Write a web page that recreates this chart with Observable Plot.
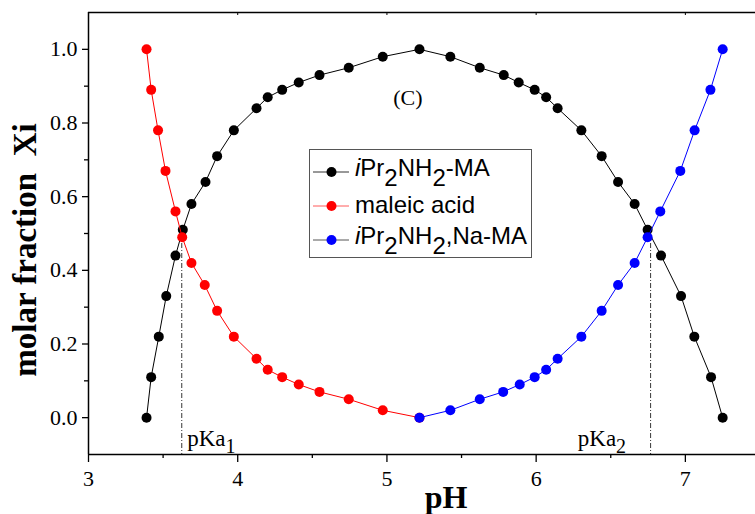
<!DOCTYPE html>
<html>
<head>
<meta charset="utf-8">
<script src="https://cdn.jsdelivr.net/npm/d3@7"></script>
<script src="https://cdn.jsdelivr.net/npm/@observablehq/plot@0.6"></script>
<style>
  html, body { margin: 0; padding: 0; background: #fff; }
  #wrap { position: relative; width: 755px; height: 514px; overflow: hidden; background: #fff; }
</style>
</head>
<body>
<div id="wrap"></div>
<script>
// ---- data ----
const seriesNames = ["iPr2NH2-MA", "maleic acid", "iPr2NH2,Na-MA"];
const seriesColors = ["#000000", "#ff0000", "#0000ff"];
const legendLineColors = ["#333333", "#ff5a5a", "#555555"];

const pH_MA = [3.389, 3.42, 3.471, 3.521, 3.583, 3.632, 3.69, 3.784, 3.862, 3.974,
               4.126, 4.201, 4.298, 4.409, 4.548, 4.744, 4.972, 5.218, 5.425, 5.622,
               5.783, 5.883, 5.99, 6.067, 6.144, 6.303, 6.439, 6.549, 6.66, 6.747,
               6.837, 6.971, 7.06, 7.172, 7.25];
const X_MA  = [0, 0.11, 0.22, 0.33, 0.44, 0.51, 0.58, 0.64, 0.71, 0.78,
               0.84, 0.87, 0.89, 0.91, 0.93, 0.95, 0.98, 1.0, 0.98, 0.95,
               0.93, 0.91, 0.89, 0.87, 0.84, 0.78, 0.71, 0.64, 0.58, 0.51,
               0.44, 0.33, 0.22, 0.11, 0];

const pH_acid = [3.389, 3.42, 3.466, 3.516, 3.583, 3.628, 3.69, 3.779, 3.862, 3.974,
                 4.126, 4.201, 4.298, 4.409, 4.548, 4.744, 4.972, 5.218];
const X_acid  = [1.0, 0.89, 0.78, 0.67, 0.56, 0.49, 0.42, 0.36, 0.29, 0.22,
                 0.16, 0.13, 0.11, 0.09, 0.07, 0.05, 0.02, 0];

const pH_Na = [5.218, 5.425, 5.622, 5.779, 5.89, 5.99, 6.067, 6.144, 6.303, 6.439,
               6.549, 6.66, 6.747, 6.832, 6.966, 7.062, 7.168, 7.25];
const X_Na  = [0, 0.02, 0.05, 0.07, 0.09, 0.11, 0.13, 0.16, 0.22, 0.29,
               0.36, 0.42, 0.49, 0.56, 0.67, 0.78, 0.89, 1.0];

const pKaValues = [3.625, 6.767];
const pKaLabels = ["pKa1", "pKa2"];
const pKaTop = 0.5;

const xDomain = [3, 7.47];
const yDomain = [-0.1, 1.1];
const xMajor = [3, 4, 5, 6, 7];
const xMinor = [3.5, 4.5, 5.5, 6.5];
const yMajor = [0, 0.2, 0.4, 0.6, 0.8, 1.0];
const yMinor = [0.1, 0.3, 0.5, 0.7, 0.9];

const panelLabel = "(C)";
const panelPos = {x: 5.14, y: 0.868};
const xTitle = "pH";
const yTitle = "molar fraction  Xi";

// ---- tables ----
const toRows = (xs, ys) => xs.map((v, i) => ({pH: v, X: ys[i]}));
const series = [toRows(pH_MA, X_MA), toRows(pH_acid, X_acid), toRows(pH_Na, X_Na)];

const serif = '"Liberation Serif", "Times New Roman", Times, serif';
const sans = '"Liberation Sans", Arial, Helvetica, sans-serif';

const marks = [
  Plot.axisY(yMajor, {tickSize: 6, tickPadding: 5, tickFormat: d3.format(".1f"), label: null, fontSize: 22, strokeWidth: 1.3}),
  Plot.axisY(yMinor, {tickSize: 4, tickFormat: () => "", label: null, strokeWidth: 1.3}),
  Plot.axisX(xMajor, {tickSize: 8, tickPadding: 8, tickFormat: d3.format("d"), label: null, fontSize: 22, strokeWidth: 1.3}),
  Plot.axisX(xMinor, {tickSize: 4, tickFormat: () => "", label: null, strokeWidth: 1.3}),
  Plot.ruleX(xMajor, {y1: yDomain[1], y2: yDomain[1], insetBottom: -3, stroke: "#000", strokeWidth: 1}),
  Plot.ruleX([xDomain[0]], {stroke: "#000", strokeWidth: 1.5}),
  Plot.ruleY([yDomain[0], yDomain[1]], {stroke: "#000", strokeWidth: 1.5}),
  Plot.ruleX(pKaValues, {y1: pKaTop, y2: yDomain[0], stroke: "#000", strokeWidth: 0.8, strokeDasharray: "5,2,1,2"}),
  Plot.text([panelLabel], {x: () => panelPos.x, y: () => panelPos.y, text: d => d, fontSize: 22, fontFamily: serif, fill: "#000"})
];
series.forEach((rows, i) => {
  marks.push(Plot.line(rows, {x: "pH", y: "X", stroke: seriesColors[i], strokeWidth: 1}));
  marks.push(Plot.dot(rows, {x: "pH", y: "X", r: 5, fill: seriesColors[i], stroke: "none"}));
});

const plot = Plot.plot({
  width: 755,
  height: 514,
  marginLeft: 88,
  marginRight: 0,
  marginTop: 12,
  marginBottom: 60,
  x: {domain: xDomain},
  y: {domain: yDomain},
  style: {fontFamily: serif, fontSize: "20px", color: "#000", background: "#fff", overflow: "visible"},
  marks
});
document.getElementById("wrap").appendChild(plot);

// ---- annotations placed through Plot's scales ----
const sx = plot.scale("x"), sy = plot.scale("y");
const svg = d3.select(plot);
const axisBottomY = sy.apply(yDomain[0]);

// tick label size
svg.selectAll('g[aria-label$="tick label"]').style("font-size", "22px").attr("font-size", 22);

// pKa labels
pKaValues.forEach((v, i) => {
  const px = sx.apply(v);
  const label = pKaLabels[i];
  const t = svg.append("text")
    .attr("font-family", serif).attr("font-size", 23).attr("fill", "#000")
    .attr("y", axisBottomY - 8.5);
  if (i === 0) t.attr("x", px + 6).attr("text-anchor", "start");
  else t.attr("x", px - 24).attr("text-anchor", "end");
  t.append("tspan").text(label.slice(0, -1));
  t.append("tspan").attr("dy", 7).attr("font-size", 20).text(label.slice(-1));
});

// axis titles
svg.append("text")
  .attr("font-family", serif).attr("font-weight", "bold").attr("font-size", 32)
  .attr("text-anchor", "middle").attr("fill", "#000")
  .attr("x", 446).attr("y", 508)
  .text(xTitle);
svg.append("text")
  .attr("font-family", serif).attr("font-weight", "bold").attr("font-size", 33)
  .attr("text-anchor", "middle").attr("fill", "#000")
  .attr("transform", "translate(36,250) rotate(-90)")
  .attr("xml:space", "preserve")
  .style("white-space", "pre")
  .text(yTitle);

// legend
const lg = svg.append("g").attr("text-anchor", "start");
lg.append("rect").attr("x", 309.5).attr("y", 149.5).attr("width", 222).attr("height", 108)
  .attr("fill", "#fff").attr("stroke", "#555").attr("stroke-width", 1);
seriesNames.forEach((name, i) => {
  const cy = 172 + i * 34;
  lg.append("line").attr("x1", 313).attr("x2", 349).attr("y1", cy).attr("y2", cy)
    .attr("stroke", legendLineColors[i]).attr("stroke-width", 1);
  lg.append("circle").attr("cx", 331.5).attr("cy", cy).attr("r", 5).attr("fill", seriesColors[i]);
  const hasSub = /\d/.test(name);
  const t = lg.append("text").attr("x", 355).attr("y", cy + (hasSub ? 4 : 6.6))
    .attr("text-anchor", "start")
    .attr("font-family", sans).attr("font-size", 24).attr("fill", "#000");
  let rest = name;
  if (/^iPr/.test(rest)) {
    t.append("tspan").attr("font-style", "italic").text("i");
    rest = rest.slice(1);
  }
  let shifted = false;
  rest.split(/(\d)/).filter(s => s.length).forEach(tok => {
    if (/^\d$/.test(tok)) {
      t.append("tspan").attr("dy", shifted ? 0 : 10).text(tok);
      shifted = true;
    } else {
      t.append("tspan").attr("dy", shifted ? -10 : 0).text(tok);
      shifted = false;
    }
  });
});
</script>
</body>
</html>
